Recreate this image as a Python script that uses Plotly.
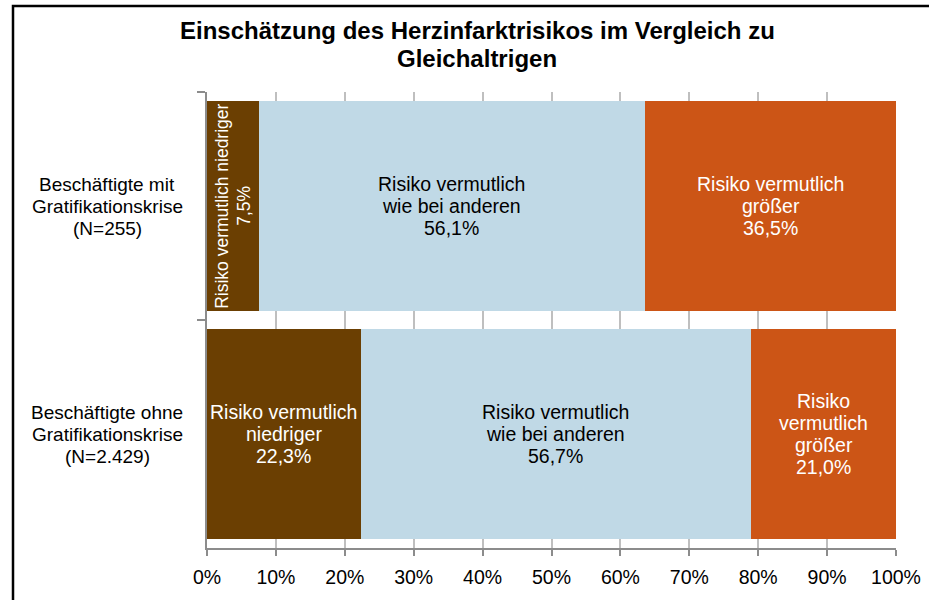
import plotly.graph_objects as go

# Groups (top to bottom) and their label lines
groups = ["mit", "ohne"]
group_labels = [
    ["Beschäftigte mit", "Gratifikationskrise", "(N=255)"],
    ["Beschäftigte ohne", "Gratifikationskrise", "(N=2.429)"],
]

# Answer categories and shares (%) per group
series_names = ["Risiko vermutlich niedriger", "Risiko vermutlich wie bei anderen", "Risiko vermutlich größer"]
niedriger = [7.5, 22.3]
wie_andere = [56.1, 56.7]
groesser = [36.5, 21.0]

# x-axis ticks
tick_values = [0, 10, 20, 30, 40, 50, 60, 70, 80, 90, 100]
tick_labels = ["0%", "10%", "20%", "30%", "40%", "50%", "60%", "70%", "80%", "90%", "100%"]

title_lines = ["Einschätzung des Herzinfarktrisikos im Vergleich zu", "Gleichaltrigen"]

# Segment label text lines (value line is appended from the data)
seg_text = {
    "niedriger": [["Risiko vermutlich niedriger"], ["Risiko vermutlich", "niedriger"]],
    "wie_andere": [["Risiko vermutlich", "wie bei anderen"], ["Risiko vermutlich", "wie bei anderen"]],
    "groesser": [["Risiko vermutlich", "größer"], ["Risiko", "vermutlich", "größer"]],
}

colors = {"niedriger": "#6B3F02", "wie_andere": "#C0D9E6", "groesser": "#CC5516"}
text_colors = {"niedriger": "white", "wie_andere": "black", "groesser": "white"}
values = {"niedriger": niedriger, "wie_andere": wie_andere, "groesser": groesser}
order = ["niedriger", "wie_andere", "groesser"]

FONT = "Liberation Sans, Arial, sans-serif"
LINE = 22  # px between text lines

W, H = 929, 600
L, R, T, B = 207, 33, 92, 52
pw, ph = W - L - R, H - T - B

fig = go.Figure()
for key, name in zip(order, series_names):
    fig.add_trace(go.Bar(
        y=groups, x=values[key], orientation="h", name=name,
        marker=dict(color=colors[key], line=dict(width=0)),
        hoverinfo="skip",
    ))


def fmt(v):
    return f"{v:.1f}".replace(".", ",") + "%"


annotations = []
for gi, g in enumerate(groups):
    start = 0.0
    for key in order:
        v = values[key][gi]
        lines = seg_text[key][gi] + [fmt(v)]
        n = len(lines)
        mid = start + v / 2
        vertical = v < 10
        for i, line in enumerate(lines):
            off = (i - (n - 1) / 2) * LINE
            ann = dict(
                x=mid, y=g, xref="x", yref="y", text=line, showarrow=False,
                font=dict(family=FONT, size=17.5 if vertical else 19.5, color=text_colors[key]),
                xanchor="center", yanchor="middle",
            )
            if vertical:
                ann["textangle"] = -90
                ann["xshift"] = off
            else:
                ann["yshift"] = -off
            annotations.append(ann)
        start += v

    # group labels left of the axis
    lines = group_labels[gi]
    n = len(lines)
    for i, line in enumerate(lines):
        off = (i - (n - 1) / 2) * LINE
        annotations.append(dict(
            x=-0.145, y=g, xref="paper", yref="y", text=line, showarrow=False,
            font=dict(family=FONT, size=19, color="black"),
            xanchor="center", yanchor="middle", yshift=-off,
        ))

# two-line bold title, set line by line (pixel centres converted to paper units)
for i, line in enumerate(title_lines):
    cy = 31 + 27 * i
    annotations.append(dict(
        x=(477 - L) / pw, y=(H - B - cy) / ph, xref="paper", yref="paper",
        text=f"<b>{line}</b>", showarrow=False,
        font=dict(family=FONT, size=24, color="black"),
        xanchor="center", yanchor="middle",
    ))

# frame around the whole chart
frame = dict(
    type="rect", xref="paper", yref="paper",
    x0=(13 - L) / pw, x1=(W + 10 - L) / pw,
    y0=-(B + 20) / ph, y1=(H - B - 6) / ph,
    line=dict(color="black", width=2.5), fillcolor="rgba(0,0,0,0)", layer="above",
)

fig.update_layout(
    width=W, height=H,
    margin=dict(l=L, r=R, t=T, b=B, autoexpand=False),
    barmode="stack", bargap=0.08,
    showlegend=False,
    paper_bgcolor="white", plot_bgcolor="white",
    font=dict(family=FONT, color="black"),
    xaxis=dict(
        range=[0, 100], tickmode="array", tickvals=tick_values, ticktext=tick_labels,
        showgrid=True, gridcolor="#BFBFBF", gridwidth=1.5, zeroline=False,
        showline=True, linecolor="#8C8C8C", linewidth=1.5,
        ticks="outside", ticklen=6, tickcolor="#8C8C8C", tickwidth=1.5,
        tickfont=dict(family=FONT, size=19.5, color="black"),
        ticklabelstandoff=5, automargin=False,
        fixedrange=True,
    ),
    yaxis=dict(
        type="category", categoryarray=groups, autorange="reversed",
        showticklabels=False, showgrid=False, zeroline=False,
        showline=True, linecolor="#8C8C8C", linewidth=1.5,
        ticks="outside", tickson="boundaries", ticklen=8, tickcolor="#8C8C8C", tickwidth=1.5,
        automargin=False, fixedrange=True,
    ),
    annotations=annotations,
    shapes=[frame],
)

fig.write_html("out.html")
